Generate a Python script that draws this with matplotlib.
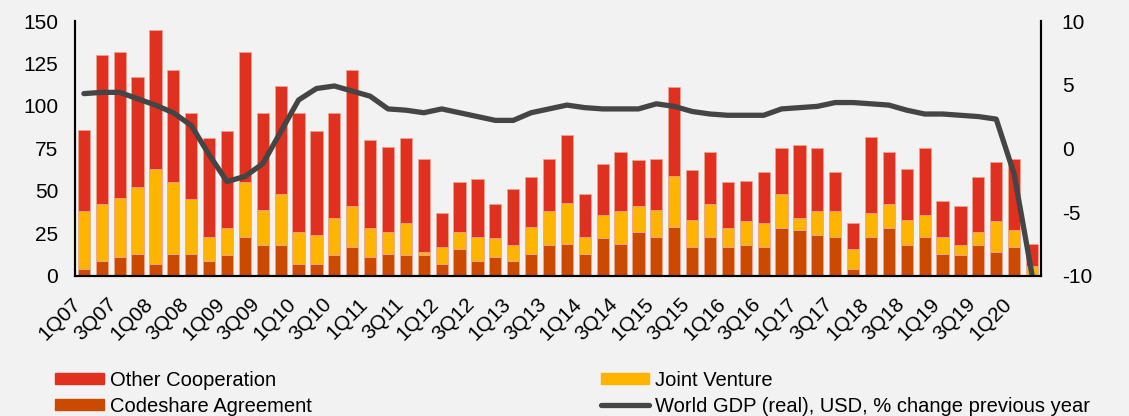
import matplotlib
matplotlib.use('Agg')
import matplotlib.pyplot as plt
import matplotlib.transforms as mtransforms
import numpy as np
from matplotlib.patches import Patch
from matplotlib.lines import Line2D

# Quarters 1Q07 .. 2Q20
quarters = [f'{q}Q{y:02d}' for y in range(7, 21) for q in range(1, 5)][:54]

# Codeshare Agreement (bottom of stack)
codeshare = [4, 9, 11, 13, 7, 13, 13, 9, 12, 23, 18, 18, 7, 7, 12, 17, 11,
             13, 12, 12, 7, 16, 9, 11, 9, 13, 18, 19, 13, 22, 19, 26, 23, 29,
             17, 23, 17, 18, 17, 28, 27, 24, 23, 4, 23, 28, 18, 23, 13, 12, 18,
             14, 17, 0]
# top of Joint Venture segment (codeshare + joint venture)
jv_top = [38, 42, 46, 52, 63, 55, 45, 23, 28, 55, 39, 48, 26, 24, 34, 41, 28,
          26, 31, 14, 17, 26, 23, 22, 18, 29, 38, 43, 23, 36, 38, 41, 39, 59,
          33, 42, 28, 32, 31, 48, 34, 38, 38, 16, 37, 42, 33, 36, 23, 18, 26,
          32, 27, 6]
# total of the stack
total = [86, 130, 132, 117, 145, 121, 96, 81, 85, 132, 96, 112, 96, 85, 96,
         121, 80, 76, 81, 69, 37, 55, 57, 42, 51, 58, 69, 83, 48, 66, 73, 68,
         69, 111, 62, 73, 55, 56, 61, 75, 77, 75, 61, 31, 82, 73, 63, 75, 44,
         41, 58, 67, 69, 19]

joint_venture = [j - c for j, c in zip(jv_top, codeshare)]
other = [t - j for t, j in zip(total, jv_top)]

# World GDP (real), % change previous year - right axis
gdp = [4.3, 4.4, 4.4, 3.9, 3.4, 2.8, 1.8, -0.5, -2.6, -2.2, -1.2, 1.3, 3.8,
       4.7, 4.9, 4.5, 4.1, 3.1, 3.0, 2.8, 3.1, 2.8, 2.5, 2.2, 2.2, 2.8, 3.1,
       3.4, 3.2, 3.1, 3.1, 3.1, 3.5, 3.3, 2.9, 2.7, 2.6, 2.6, 2.6, 3.1, 3.2,
       3.3, 3.6, 3.6, 3.5, 3.4, 3.0, 2.7, 2.7, 2.6, 2.5, 2.3, -2.0, -9.9]

c_other = '#E03020'
c_jv = '#FFB400'
c_code = '#CC4A00'
c_line = '#454545'
bg = '#F2F2F2'

plt.rcParams['font.family'] = ['Liberation Sans', 'DejaVu Sans']
plt.rcParams['axes.unicode_minus'] = False

fig = plt.figure(figsize=(11.29, 4.16), dpi=100, facecolor=bg)
ax = fig.add_axes([0.0664, 0.337, 0.8556, 0.6125], facecolor=bg)

x = np.arange(len(quarters))
w = 0.68
ax.bar(x, codeshare, w, color=c_code, edgecolor='#EBA58C', linewidth=0.6)
ax.bar(x, joint_venture, w, bottom=codeshare, color=c_jv, edgecolor='#EBA58C', linewidth=0.6)
ax.bar(x, other, w, bottom=jv_top, color=c_other, edgecolor='#EBA58C', linewidth=0.6)

ax.set_xlim(-0.5, len(x) - 0.5)
ax.set_ylim(0, 150)
ax.set_yticks([0, 25, 50, 75, 100, 125, 150])
ax.set_xticks(x[::2])
ax.set_xticklabels(quarters[::2], rotation=45, ha='right', va='center',
                   rotation_mode='anchor')
ax.tick_params(axis='both', length=0, labelsize=15, colors='black')
ax.tick_params(axis='x', pad=18)
ax.tick_params(axis='y', pad=12)
# nudge the rotated labels a bit to the left
shift = mtransforms.ScaledTranslation(-4 / 72, 0, fig.dpi_scale_trans)
for lab in ax.get_xticklabels():
    lab.set_transform(lab.get_transform() + shift)
ax.spines['top'].set_visible(False)
for s in ['left', 'bottom', 'right']:
    ax.spines[s].set_linewidth(1.5)

ax2 = ax.twinx()
ax2.plot(x, gdp, color=c_line, linewidth=3.8, solid_capstyle='round', solid_joinstyle='round')
ax2.set_ylim(-10, 10)
ax2.set_yticks([-10, -5, 0, 5, 10])
ax2.tick_params(axis='y', length=0, labelsize=15, pad=15)
ax2.spines['top'].set_visible(False)
for s in ['left', 'bottom', 'right']:
    ax2.spines[s].set_linewidth(1.5)

# legend in two columns below the chart
h1 = [Patch(color=c_other), Patch(color=c_code)]
h2 = [Patch(color=c_jv), Line2D([], [], color=c_line, linewidth=3.8, solid_capstyle='round')]
leg_kw = dict(frameon=False, fontsize=14.5, handlelength=2.4, handleheight=0.5,
              handletextpad=0.3, labelspacing=0.35, borderaxespad=0)
fig.legend(h1, ['Other Cooperation', 'Codeshare Agreement'], loc='upper left',
           bbox_to_anchor=(0.042, 0.128), **leg_kw)
fig.legend(h2, ['Joint Venture', 'World GDP (real), USD, % change previous year'],
           loc='upper left', bbox_to_anchor=(0.525, 0.128), **leg_kw)

fig.savefig('out.png', dpi=100, facecolor=bg)
